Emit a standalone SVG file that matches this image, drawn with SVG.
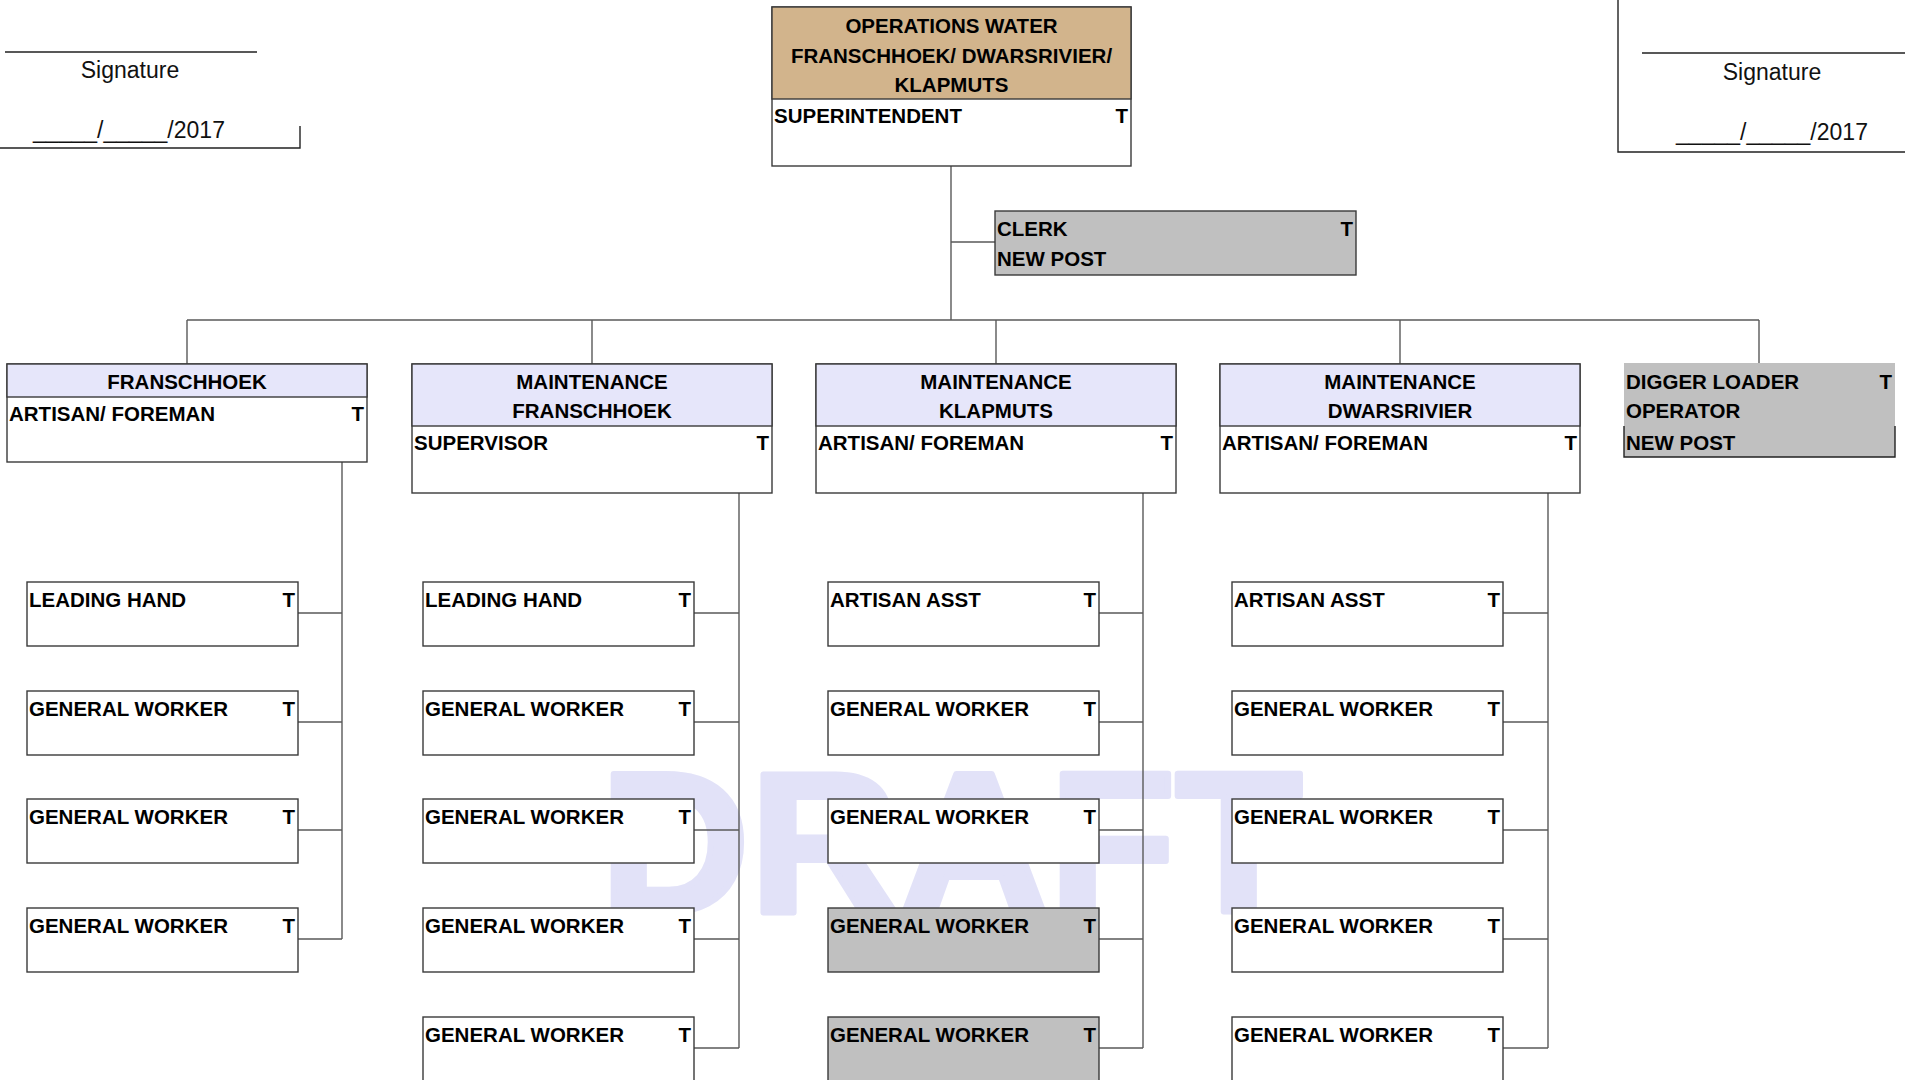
<svg xmlns="http://www.w3.org/2000/svg" width="1905" height="1080" viewBox="0 0 1905 1080">
<style>
.b{font-family:"Liberation Sans",Arial,sans-serif;font-weight:bold;font-size:20.5px;fill:#000}
.c{text-anchor:middle}
.e{text-anchor:end}
.r{font-family:"Liberation Sans",Arial,sans-serif;font-size:23px;fill:#111}
.box{fill:#fff;stroke:#3a3a3a;stroke-width:1.4}
.grey{fill:#c0c0c0;stroke:#3a3a3a;stroke-width:1.4}
.hdr{fill:#e6e6fa;stroke:#3a3a3a;stroke-width:1.4}
.tan{fill:#d2b48c;stroke:#3a3a3a;stroke-width:1.4}
.ln{fill:none;stroke:#5a5a5a;stroke-width:1.4}
.sig{fill:none;stroke:#222;stroke-width:1.4}
</style>
<rect width="1905" height="1080" fill="#fff"/>
<text x="600" y="912" textLength="702" lengthAdjust="spacingAndGlyphs" style="font-family:'Liberation Sans',Arial,sans-serif;font-weight:bold;font-size:200px;fill:#e2e2f8;stroke:#e2e2f8;stroke-width:6;stroke-linejoin:round">DRAFT</text>

<g id="sig-left">
<path class="sig" d="M5 52H257M0 148H300V126"/>
<text class="r c" x="130" y="78">Signature</text>
<text class="r c" x="129" y="138">_____/_____/2017</text>
</g>
<g id="sig-right">
<path class="sig" d="M1642 53H1905M1618 0V152H1905"/>
<text class="r c" x="1772" y="80">Signature</text>
<text class="r c" x="1772" y="140">_____/_____/2017</text>
</g>

<g id="connectors">
<path class="ln" d="M951 166V320M951 242H995M187 320H1759M187 320V364M592 320V364M996 320V364M1400 320V364M1759 320V363"/>
<path class="ln" d="M342 462V939M298 613H342M298 722H342M298 830H342M298 939H342"/>
<path class="ln" d="M739 493V1048M694 613H739M694 722H739M694 830H739M694 939H739M694 1048H739"/>
<path class="ln" d="M1143 493V1048M1099 613H1143M1099 722H1143M1099 830H1143M1099 939H1143M1099 1048H1143"/>
<path class="ln" d="M1548 493V1048M1503 613H1548M1503 722H1548M1503 830H1548M1503 939H1548M1503 1048H1548"/>
</g>

<g id="n-top">
<rect class="box" x="772" y="7" width="359" height="159"/>
<rect class="tan" x="772" y="7" width="359" height="92"/>
<text class="b c" x="951.5" y="33">OPERATIONS WATER</text>
<text class="b c" x="951.5" y="62.5">FRANSCHHOEK/ DWARSRIVIER/</text>
<text class="b c" x="951.5" y="92">KLAPMUTS</text>
<text class="b" x="774" y="123">SUPERINTENDENT</text>
<text class="b e" x="1128" y="123">T</text>
</g>

<g id="n-clerk">
<rect class="grey" x="995" y="211" width="361" height="64"/>
<text class="b" x="997" y="236">CLERK</text>
<text class="b e" x="1353" y="236">T</text>
<text class="b" x="997" y="266">NEW POST</text>
</g>

<g id="n-franschhoek">
<rect class="box" x="7" y="364" width="360" height="98"/>
<rect class="hdr" x="7" y="364" width="360" height="33"/>
<text class="b c" x="187" y="389">FRANSCHHOEK</text>
<text class="b" x="9" y="421">ARTISAN/ FOREMAN</text>
<text class="b e" x="364" y="421">T</text>
</g>

<g id="n-maint-fh">
<rect class="box" x="412" y="364" width="360" height="129"/>
<rect class="hdr" x="412" y="364" width="360" height="62"/>
<text class="b c" x="592" y="389">MAINTENANCE</text>
<text class="b c" x="592" y="418">FRANSCHHOEK</text>
<text class="b" x="414" y="450">SUPERVISOR</text>
<text class="b e" x="769" y="450">T</text>
</g>

<g id="n-maint-kl">
<rect class="box" x="816" y="364" width="360" height="129"/>
<rect class="hdr" x="816" y="364" width="360" height="62"/>
<text class="b c" x="996" y="389">MAINTENANCE</text>
<text class="b c" x="996" y="418">KLAPMUTS</text>
<text class="b" x="818" y="450">ARTISAN/ FOREMAN</text>
<text class="b e" x="1173" y="450">T</text>
</g>

<g id="n-maint-dw">
<rect class="box" x="1220" y="364" width="360" height="129"/>
<rect class="hdr" x="1220" y="364" width="360" height="62"/>
<text class="b c" x="1400" y="389">MAINTENANCE</text>
<text class="b c" x="1400" y="418">DWARSRIVIER</text>
<text class="b" x="1222" y="450">ARTISAN/ FOREMAN</text>
<text class="b e" x="1577" y="450">T</text>
</g>

<g id="n-digger">
<rect x="1624" y="363" width="271" height="94" fill="#c0c0c0"/>
<path class="sig" d="M1624 426V457H1895V426"/>
<text class="b" x="1626" y="389">DIGGER LOADER</text>
<text class="b e" x="1892" y="389">T</text>
<text class="b" x="1626" y="418">OPERATOR</text>
<text class="b" x="1626" y="450">NEW POST</text>
</g>

<g id="c1-1"><rect class="box" x="27" y="582" width="271" height="64"/><text class="b" x="29" y="607">LEADING HAND</text><text class="b e" x="295" y="607">T</text></g>
<g id="c1-2"><rect class="box" x="27" y="691" width="271" height="64"/><text class="b" x="29" y="716">GENERAL WORKER</text><text class="b e" x="295" y="716">T</text></g>
<g id="c1-3"><rect class="box" x="27" y="799" width="271" height="64"/><text class="b" x="29" y="824">GENERAL WORKER</text><text class="b e" x="295" y="824">T</text></g>
<g id="c1-4"><rect class="box" x="27" y="908" width="271" height="64"/><text class="b" x="29" y="933">GENERAL WORKER</text><text class="b e" x="295" y="933">T</text></g>

<g id="c2-1"><rect class="box" x="423" y="582" width="271" height="64"/><text class="b" x="425" y="607">LEADING HAND</text><text class="b e" x="691" y="607">T</text></g>
<g id="c2-2"><rect class="box" x="423" y="691" width="271" height="64"/><text class="b" x="425" y="716">GENERAL WORKER</text><text class="b e" x="691" y="716">T</text></g>
<g id="c2-3"><rect class="box" x="423" y="799" width="271" height="64"/><text class="b" x="425" y="824">GENERAL WORKER</text><text class="b e" x="691" y="824">T</text></g>
<g id="c2-4"><rect class="box" x="423" y="908" width="271" height="64"/><text class="b" x="425" y="933">GENERAL WORKER</text><text class="b e" x="691" y="933">T</text></g>
<g id="c2-5"><rect class="box" x="423" y="1017" width="271" height="64"/><text class="b" x="425" y="1042">GENERAL WORKER</text><text class="b e" x="691" y="1042">T</text></g>

<g id="c3-1"><rect class="box" x="828" y="582" width="271" height="64"/><text class="b" x="830" y="607">ARTISAN ASST</text><text class="b e" x="1096" y="607">T</text></g>
<g id="c3-2"><rect class="box" x="828" y="691" width="271" height="64"/><text class="b" x="830" y="716">GENERAL WORKER</text><text class="b e" x="1096" y="716">T</text></g>
<g id="c3-3"><rect class="box" x="828" y="799" width="271" height="64"/><text class="b" x="830" y="824">GENERAL WORKER</text><text class="b e" x="1096" y="824">T</text></g>
<g id="c3-4"><rect class="grey" x="828" y="908" width="271" height="64"/><text class="b" x="830" y="933">GENERAL WORKER</text><text class="b e" x="1096" y="933">T</text></g>
<g id="c3-5"><rect class="grey" x="828" y="1017" width="271" height="64"/><text class="b" x="830" y="1042">GENERAL WORKER</text><text class="b e" x="1096" y="1042">T</text></g>

<g id="c4-1"><rect class="box" x="1232" y="582" width="271" height="64"/><text class="b" x="1234" y="607">ARTISAN ASST</text><text class="b e" x="1500" y="607">T</text></g>
<g id="c4-2"><rect class="box" x="1232" y="691" width="271" height="64"/><text class="b" x="1234" y="716">GENERAL WORKER</text><text class="b e" x="1500" y="716">T</text></g>
<g id="c4-3"><rect class="box" x="1232" y="799" width="271" height="64"/><text class="b" x="1234" y="824">GENERAL WORKER</text><text class="b e" x="1500" y="824">T</text></g>
<g id="c4-4"><rect class="box" x="1232" y="908" width="271" height="64"/><text class="b" x="1234" y="933">GENERAL WORKER</text><text class="b e" x="1500" y="933">T</text></g>
<g id="c4-5"><rect class="box" x="1232" y="1017" width="271" height="64"/><text class="b" x="1234" y="1042">GENERAL WORKER</text><text class="b e" x="1500" y="1042">T</text></g>
</svg>
